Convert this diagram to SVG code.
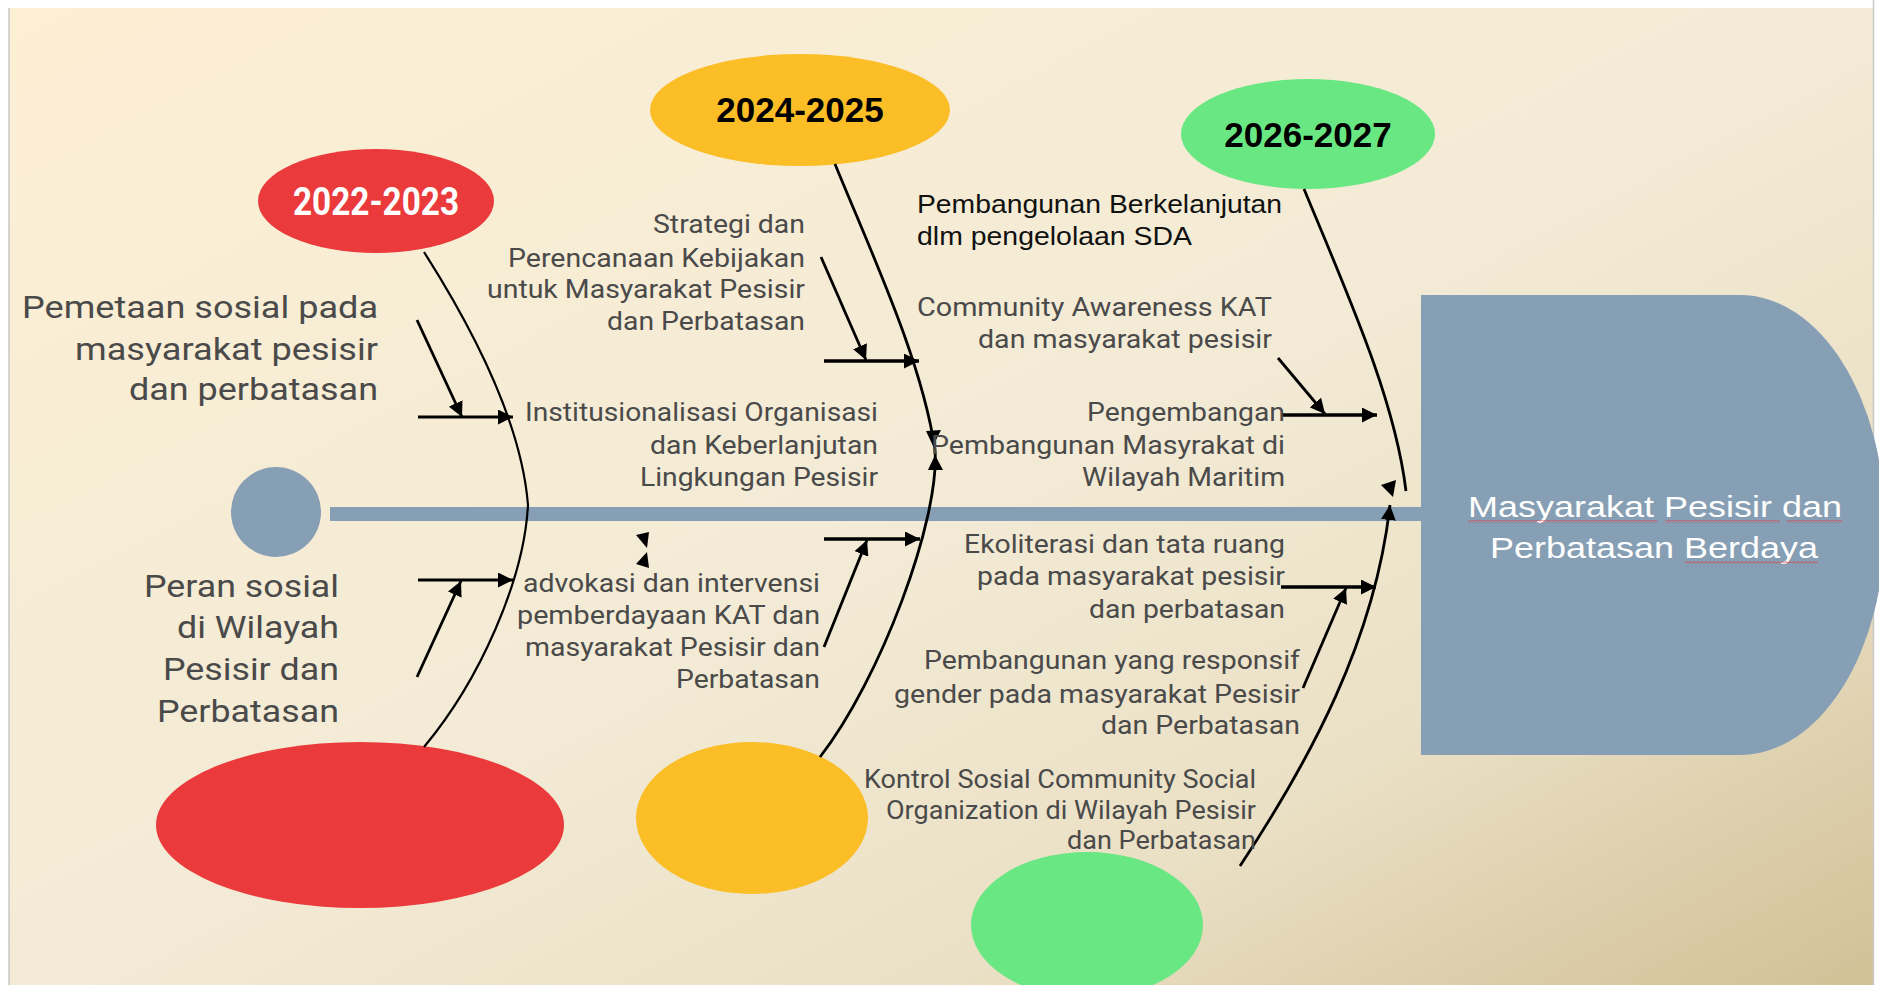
<svg xmlns="http://www.w3.org/2000/svg" width="1879" height="985" viewBox="0 0 1879 985">
<defs>
<linearGradient id="bg" x1="0" y1="0" x2="1" y2="1">
<stop offset="0" stop-color="#FDEFD4"/>
<stop offset="0.5" stop-color="#F3EBD6"/>
<stop offset="0.75" stop-color="#EAE0C5"/>
<stop offset="1" stop-color="#D2C096"/>
</linearGradient>
<marker id="arr" viewBox="0 0 15 15" refX="15" refY="7.5" markerWidth="15" markerHeight="15" markerUnits="userSpaceOnUse" orient="auto">
<path d="M0,0 L15,7.5 L0,15 Z" fill="#000"/>
</marker>
<pattern id="squig" width="4" height="3" patternUnits="userSpaceOnUse">
<path d="M0,2.5 L2,0.5 L4,2.5" fill="none" stroke="#E0343A" stroke-width="0.9"/>
</pattern>
<style>
.gray{font-family:Roboto,"Liberation Sans",sans-serif;fill:#4A4A4A;text-anchor:end}
.big{font-size:32px}
.med{font-size:25px}
.blk{font-family:"Liberation Sans",Arial,sans-serif;font-size:25px;fill:#111}
.yr{font-family:"Liberation Sans",Arial,sans-serif;font-weight:bold;font-size:35px;fill:#000;text-anchor:middle}
.head{font-family:"Liberation Sans",Arial,sans-serif;font-size:30px;fill:#fff}
.ln{fill:none;stroke:#000;stroke-width:2.8}
.bone{fill:none;stroke:#000;stroke-width:2.8;marker-end:url(#arr)}
.hb{stroke-width:3.4}
</style>
</defs>
<rect x="0" y="0" width="1879" height="985" fill="#fff"/>
<rect x="9" y="8" width="1864" height="977" fill="url(#bg)"/>
<line x1="9" y1="8" x2="9" y2="985" stroke="#C9C9C9" stroke-width="1.5"/>
<line x1="1873.5" y1="0" x2="1873.5" y2="985" stroke="#C9C9C9" stroke-width="1.5"/>

<g id="spine"><rect x="330" y="507" width="1095" height="14" fill="#879FB4"/></g>
<g id="tail"><ellipse cx="276" cy="512" rx="45" ry="45" fill="#879FB4"/></g>
<g id="head">
<path d="M1421,295 H1740 A145,230 0 0 1 1740,755 H1421 Z" fill="#879FB4"/>
<text class="head" x="1468" y="517" textLength="374" lengthAdjust="spacingAndGlyphs">Masyarakat Pesisir dan</text>
<text class="head" x="1490" y="558" textLength="328" lengthAdjust="spacingAndGlyphs">Perbatasan Berdaya</text>
<rect x="1468" y="520" width="189" height="3" fill="url(#squig)"/>
<rect x="1665" y="520" width="115" height="3" fill="url(#squig)"/>
<rect x="1787" y="520" width="55" height="3" fill="url(#squig)"/>
<rect x="1685" y="561" width="133" height="3" fill="url(#squig)"/>
</g>

<g id="year-2022">
<ellipse cx="376" cy="201" rx="118" ry="52" fill="#EA3A3B"/>
<text x="376" y="215" font-family="Roboto,'Liberation Sans',sans-serif" font-weight="bold" font-size="38" fill="#fff" text-anchor="middle" textLength="166" lengthAdjust="spacingAndGlyphs">2022-2023</text>
</g>
<g id="year-2024">
<ellipse cx="800" cy="110" rx="150" ry="56" fill="#FBBE26"/>
<text class="yr" x="800" y="122">2024-2025</text>
</g>
<g id="year-2026">
<ellipse cx="1308" cy="134" rx="127" ry="55" fill="#69E782"/>
<text class="yr" x="1308" y="147">2026-2027</text>
</g>
<g id="bottom-2022"><ellipse cx="360" cy="825" rx="204" ry="83" fill="#EA3A3B"/></g>
<g id="bottom-2024"><ellipse cx="752" cy="818" rx="116" ry="76" fill="#FBBE26"/></g>
<g id="bottom-2026"><ellipse cx="1087" cy="925" rx="116" ry="73" fill="#69E782"/></g>

<g id="connectors">
<path class="ln" style="stroke-width:2.2" d="M424,252 C480,340 522,430 528,505 C524,580 480,680 424,747"/>
<path class="ln" d="M835,164 C870,250 922,360 935,450 C940,520 880,680 820,757"/>
<path class="ln" d="M1304,189 C1350,300 1395,400 1406,491"/>
<path class="bone" d="M1240,866 C1310,760 1375,640 1390,505"/>
<path d="M933,446 L926,431 L941,430 Z" fill="#000"/>
<path d="M935,455 L928,470 L943,470 Z" fill="#000"/>
<path d="M647,548 L636,535 L649,532 Z" fill="#000"/>
<path d="M647,552 L636,564 L649,568 Z" fill="#000"/>
<path d="M1393,497 L1381,485 L1396,480 Z" fill="#000"/>
<path class="bone" d="M418,417 L513,417"/>
<path class="bone" d="M417,320 L462,417"/>
<path class="bone" d="M418,580 L513,580"/>
<path class="bone" d="M417,677 L461,581"/>
<path class="bone hb" d="M824,361 L919,361"/>
<path class="bone" d="M821,257 L866,360"/>
<path class="bone hb" d="M824,539 L920,539"/>
<path class="bone" d="M824,647 L867,540"/>
<path class="bone hb" d="M1282,415 L1377,415"/>
<path class="bone" d="M1278,358 L1325,414"/>
<path class="bone hb" d="M1281,587 L1376,587"/>
<path class="bone" d="M1303,688 L1346,588"/>
</g>

<g id="cause-pemetaan" class="gray big">
<text x="378" y="318" textLength="356" lengthAdjust="spacingAndGlyphs">Pemetaan sosial pada</text>
<text x="378" y="360" textLength="303" lengthAdjust="spacingAndGlyphs">masyarakat pesisir</text>
<text x="378" y="400" textLength="249" lengthAdjust="spacingAndGlyphs">dan perbatasan</text>
</g>
<g id="cause-peran" class="gray big">
<text x="339" y="597" textLength="195" lengthAdjust="spacingAndGlyphs">Peran sosial</text>
<text x="339" y="638" textLength="162" lengthAdjust="spacingAndGlyphs">di Wilayah</text>
<text x="339" y="680" textLength="176" lengthAdjust="spacingAndGlyphs">Pesisir dan</text>
<text x="339" y="722" textLength="182" lengthAdjust="spacingAndGlyphs">Perbatasan</text>
</g>
<g id="cause-strategi" class="gray med">
<text x="805" y="233" textLength="152" lengthAdjust="spacingAndGlyphs">Strategi dan</text>
<text x="805" y="267" textLength="297" lengthAdjust="spacingAndGlyphs">Perencanaan Kebijakan</text>
<text x="805" y="298" textLength="318" lengthAdjust="spacingAndGlyphs">untuk Masyarakat Pesisir</text>
<text x="805" y="330" textLength="198" lengthAdjust="spacingAndGlyphs">dan Perbatasan</text>
</g>
<g id="cause-institusionalisasi" class="gray med">
<text x="878" y="421" textLength="353" lengthAdjust="spacingAndGlyphs">Institusionalisasi Organisasi</text>
<text x="878" y="454" textLength="228" lengthAdjust="spacingAndGlyphs">dan Keberlanjutan</text>
<text x="878" y="486" textLength="238" lengthAdjust="spacingAndGlyphs">Lingkungan Pesisir</text>
</g>
<g id="cause-advokasi" class="gray med">
<text x="820" y="592" textLength="297" lengthAdjust="spacingAndGlyphs">advokasi dan intervensi</text>
<text x="820" y="624" textLength="303" lengthAdjust="spacingAndGlyphs">pemberdayaan KAT dan</text>
<text x="820" y="656" textLength="295" lengthAdjust="spacingAndGlyphs">masyarakat Pesisir dan</text>
<text x="820" y="688" textLength="144" lengthAdjust="spacingAndGlyphs">Perbatasan</text>
</g>
<g id="cause-pembangunan-berkelanjutan" class="blk">
<text x="917" y="213" textLength="365" lengthAdjust="spacingAndGlyphs">Pembangunan Berkelanjutan</text>
<text x="917" y="245" textLength="275" lengthAdjust="spacingAndGlyphs">dlm pengelolaan SDA</text>
</g>
<g id="cause-community" class="gray med">
<text x="1272" y="316" textLength="355" lengthAdjust="spacingAndGlyphs">Community Awareness KAT</text>
<text x="1272" y="348" textLength="294" lengthAdjust="spacingAndGlyphs">dan masyarakat pesisir</text>
</g>
<g id="cause-pengembangan" class="gray med">
<text x="1285" y="421" textLength="198" lengthAdjust="spacingAndGlyphs">Pengembangan</text>
<text x="1285" y="454" textLength="354" lengthAdjust="spacingAndGlyphs">Pembangunan Masyrakat di</text>
<text x="1285" y="486" textLength="203" lengthAdjust="spacingAndGlyphs">Wilayah Maritim</text>
</g>
<g id="cause-ekoliterasi" class="gray med">
<text x="1285" y="553" textLength="321" lengthAdjust="spacingAndGlyphs">Ekoliterasi dan tata ruang</text>
<text x="1285" y="585" textLength="308" lengthAdjust="spacingAndGlyphs">pada masyarakat pesisir</text>
<text x="1285" y="618" textLength="196" lengthAdjust="spacingAndGlyphs">dan perbatasan</text>
</g>
<g id="cause-gender" class="gray med">
<text x="1300" y="669" textLength="376" lengthAdjust="spacingAndGlyphs">Pembangunan yang responsif</text>
<text x="1300" y="703" textLength="406" lengthAdjust="spacingAndGlyphs">gender pada masyarakat Pesisir</text>
<text x="1300" y="734" textLength="199" lengthAdjust="spacingAndGlyphs">dan Perbatasan</text>
</g>
<g id="cause-kontrol" class="gray med">
<text x="1256" y="788" textLength="392" lengthAdjust="spacingAndGlyphs">Kontrol Sosial Community Social</text>
<text x="1256" y="819" textLength="370" lengthAdjust="spacingAndGlyphs">Organization di Wilayah Pesisir</text>
<text x="1256" y="849" textLength="189" lengthAdjust="spacingAndGlyphs">dan Perbatasan</text>
</g>
</svg>
